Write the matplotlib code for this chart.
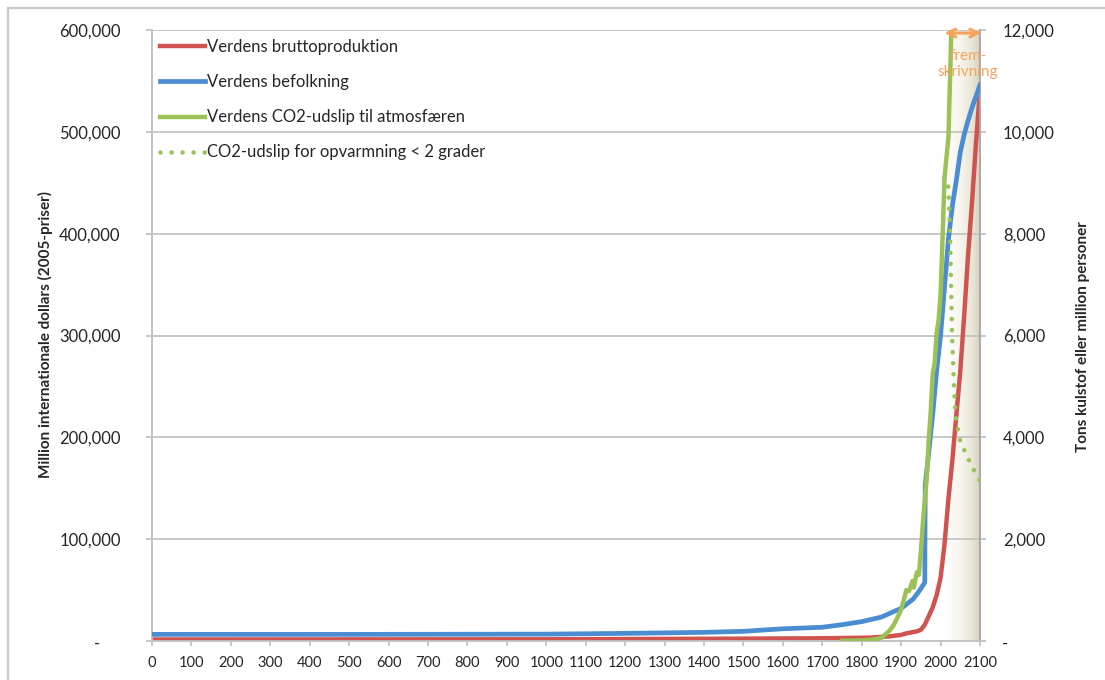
import matplotlib.pyplot as plt
import numpy as np
from matplotlib.patches import Rectangle
from matplotlib.ticker import FuncFormatter, MultipleLocator

plt.rcParams["font.family"] = ["Lato", "DejaVu Sans"]

# World GDP, million international dollars (left axis)
gdp_years = [0, 1000, 1500, 1600, 1700, 1820, 1870, 1900, 1913, 1940, 1950,
             1960, 1973, 1980, 1990, 2000, 2010, 2020, 2030, 2040, 2050,
             2060, 2070, 2080, 2090, 2100]
gdp_values = [1500, 1700, 2300, 2500, 2700, 3300, 4500, 6000, 7500, 9500,
              11000, 16000, 27000, 33000, 45000, 62000, 95000, 140000, 178000,
              222000, 265000, 320000, 380000, 432000, 490000, 541000]

# World population, million persons (right axis)
pop_years = [0, 500, 1000, 1200, 1400, 1500, 1600, 1700, 1750, 1800, 1850,
             1880, 1900, 1920, 1930, 1940, 1950, 1960, 1961, 1970, 1980,
             1990, 2000, 2010, 2020, 2030, 2040, 2050, 2060, 2070, 2080,
             2090, 2100]
pop_values = [130, 130, 135, 150, 170, 190, 240, 270, 320, 380, 470, 575,
              640, 760, 820, 920, 1030, 1150, 3050, 3700, 4450, 5300, 6000,
              6950, 7900, 8550, 9050, 9600, 9950, 10230, 10480, 10700, 10920]

# World CO2 emissions to the atmosphere, tons of carbon (right axis)
co2_years = [1750, 1800, 1830, 1850, 1870, 1880, 1890, 1900, 1910, 1913,
             1920, 1929, 1932, 1940, 1945, 1950, 1955, 1960, 1965, 1970,
             1975, 1980, 1985, 1990, 1995, 2000, 2005, 2010, 2015, 2020, 2035]
co2_values = [5, 10, 30, 60, 200, 300, 450, 620, 900, 1000, 980, 1180,
              1050, 1350, 1300, 1750, 2300, 2750, 3200, 3950, 4500, 5250,
              5450, 6050, 6300, 6800, 7900, 9100, 9500, 9900, 14200]

# Emission path keeping warming below 2 degrees (right axis)
target_years = [2010, 2015, 2020, 2024, 2029, 2034, 2039, 2049, 2060, 2075,
                2088, 2100]
target_values = [9100, 9100, 8900, 8000, 6050, 5000, 4350, 3950, 3750, 3500,
                  3300, 3150]

PROJ_START = 2015
YEAR_END = 2100

RED = "#D1534F"
BLUE = "#4A8DD2"
GREEN = "#9BC255"
ORANGE = "#F6A35C"
GRID = "#C3C3C3"
TEXT = "#262626"
FS = 12

W, H = 1105, 680
fig = plt.figure(figsize=(W / 100, H / 100), dpi=100)
ax = fig.add_axes([152 / W, 39 / H, 828 / W, 611 / H])
ax2 = ax.twinx()

# outer chart frame
fig.patches.append(Rectangle((8 / W, -0.1), 1.2, (H - 8) / H + 0.1,
                             transform=fig.transFigure, fill=False,
                             edgecolor="#C8C8C8", lw=1.6))

# projection band with a soft cream gradient
grad_pos = np.linspace(0, 1, 200)
stops = np.array([[255, 255, 255], [246, 244, 236], [232, 228, 214],
                  [214, 209, 192]]) / 255
stop_pos = [0, 0.45, 0.8, 1.0]
grad = np.stack([np.interp(grad_pos, stop_pos, stops[:, c]) for c in range(3)],
                axis=-1)[None, :, :]
ax.imshow(grad, extent=[PROJ_START, YEAR_END, 0, 600000], aspect="auto",
          zorder=0.1, interpolation="bilinear")

ax.plot(gdp_years, gdp_values, color=RED, lw=3.2, zorder=3,
        solid_joinstyle="round", label="Verdens bruttoproduktion")
ax2.plot(pop_years, pop_values, color=BLUE, lw=3.4, zorder=3,
         solid_joinstyle="round", label="Verdens befolkning")
ax2.plot(co2_years, co2_values, color=GREEN, lw=3.2, zorder=4,
         solid_joinstyle="round", label="Verdens CO2-udslip til atmosfæren")
ax2.plot(target_years, target_values, color=GREEN, lw=3.3, zorder=5,
         linestyle=(0, (0.01, 2.4)), dash_capstyle="round",
         label="CO2-udslip for opvarmning < 2 grader")

ax.set_xlim(0, YEAR_END)
ax.set_ylim(0, 600000)
ax2.set_ylim(0, 12000)
ax.set_facecolor("none")

ax.xaxis.set_major_locator(MultipleLocator(100))
ax.yaxis.set_major_locator(MultipleLocator(100000))
ax2.yaxis.set_major_locator(MultipleLocator(2000))
ax.yaxis.set_major_formatter(FuncFormatter(lambda v, p: "" if v == 0 else f"{v:,.0f}"))
ax2.yaxis.set_major_formatter(FuncFormatter(lambda v, p: "" if v == 0 else f"{v:,.0f}"))

ax.set_axisbelow(True)
ax.yaxis.grid(True, color=GRID, lw=1.3)
for a in (ax, ax2):
    a.spines["top"].set_visible(False)
    for side in ("left", "bottom", "right"):
        a.spines[side].set_color(GRID)
        a.spines[side].set_linewidth(1.3)
ax2.spines["right"].set_color("#A8A8A8")

ax.tick_params(axis="x", length=3.6, width=1.3, color=GRID, labelsize=10.5,
               labelcolor=TEXT, pad=7)
ax.tick_params(axis="y", length=4.5, width=1.3, color=GRID, labelsize=FS,
               labelcolor=TEXT, pad=18)
ax2.tick_params(axis="y", length=4.5, width=1.3, color=GRID, labelsize=FS,
                labelcolor=TEXT, pad=12)

# accounting style dash for the zero values
fig.text(97 / W, 1 - 644 / H, "-", ha="center", va="center", fontsize=FS,
         color=TEXT)
fig.text(1005 / W, 1 - 644 / H, "-", ha="center", va="center", fontsize=FS,
         color=TEXT)

fig.text(45 / W, 1 - 335 / H, "Million internationale dollars (2005-priser)",
         rotation=90, ha="center", va="center", fontsize=11,
         fontweight="bold", color=TEXT)
fig.text(1083 / W, 1 - 337 / H, "Tons kulstof eller million personer",
         rotation=90, ha="center", va="center", fontsize=11,
         fontweight="bold", color=TEXT)

# projection marker
ax2.annotate("", xy=(YEAR_END + 3, 11940), xytext=(PROJ_START - 5, 11940),
             arrowprops=dict(arrowstyle="<->", color=ORANGE, lw=2.2,
                             shrinkA=0, shrinkB=0, mutation_scale=14),
             annotation_clip=False, zorder=6)
ax2.text(2070, 11330, "frem-\nskrivning", ha="center", va="center",
         color=ORANGE, fontsize=11, linespacing=1.25, zorder=6)

handles = ax.get_lines() + ax2.get_lines()
leg = ax2.legend(handles, [h.get_label() for h in handles], loc="upper left",
                 bbox_to_anchor=(160 / W, 1 - 39 / H),
                 bbox_transform=fig.transFigure, frameon=False, fontsize=FS,
                 handlelength=2.7, handletextpad=0.12, labelspacing=1.15,
                 borderpad=0, borderaxespad=0)
for t in leg.get_texts():
    t.set_color(TEXT)

fig.savefig("out.png", dpi=100)
